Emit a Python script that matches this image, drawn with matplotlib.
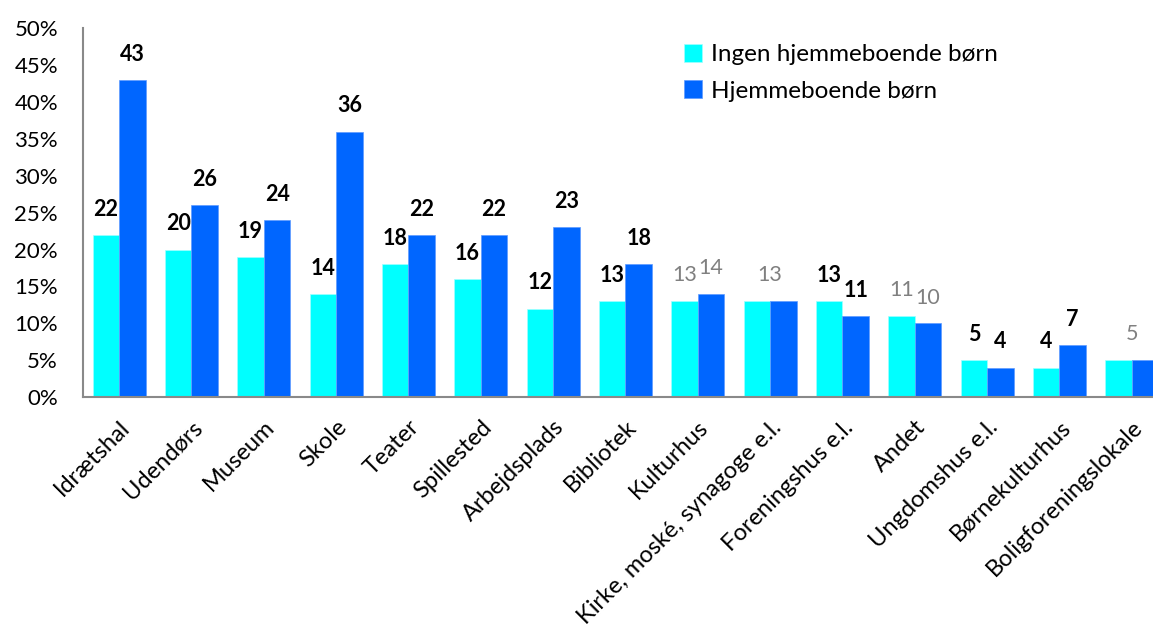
import matplotlib
matplotlib.use("Agg")
import matplotlib.pyplot as plt
import numpy as np

plt.rcParams['font.family'] = ['Lato', 'DejaVu Sans']

categories = ["Idrætshal", "Udendørs", "Museum", "Skole", "Teater", "Spillested",
              "Arbejdsplads", "Bibliotek", "Kulturhus", "Kirke, moské, synagoge e.l.",
              "Foreningshus e.l.", "Andet", "Ungdomshus e.l.", "Børnekulturhus",
              "Boligforeningslokale"]
ingen = [22, 20, 19, 14, 18, 16, 12, 13, 13, 13, 13, 11, 5, 4, 5]
hjemme = [43, 26, 24, 36, 22, 22, 23, 18, 14, 13, 11, 10, 4, 7, 5]
# label style per category: 'bold' = two bold labels, 'gray' = two gray labels,
# 'single' = one gray label centred on the group
label_style = ["bold"] * 8 + ["gray", "single", "bold", "gray", "bold", "bold", "single"]
yticks = [0, 5, 10, 15, 20, 25, 30, 35, 40, 45, 50]
series_names = ["Ingen hjemmeboende børn", "Hjemmeboende børn"]

c_cyan = "#00FFFF"
c_blue = "#0066FF"

fig = plt.figure(figsize=(11.53, 6.39), dpi=100)
W, H = 1153, 639
left_px, right_px, top_px, bot_px = 83, 1168, 28.4, 397
ax = fig.add_axes([left_px / W, 1 - bot_px / H, (right_px - left_px) / W, (bot_px - top_px) / H])

x = np.arange(len(categories))
bw = 0.366
b1 = ax.bar(x - bw / 2, ingen, bw, color=c_cyan, label=series_names[0], edgecolor="#9FFFFF", linewidth=0.5)
b2 = ax.bar(x + bw / 2, hjemme, bw, color=c_blue, label=series_names[1], edgecolor="#5E9BFF", linewidth=0.5)

ax.set_xlim(-0.5, len(categories) - 0.5)
ax.set_ylim(0, 50)
ax.set_yticks(yticks)
ax.set_yticklabels([f"{t}%" for t in yticks], fontsize=16)
ax.tick_params(axis='y', length=0, pad=18)
ax.set_xticks(x)
ax.set_xticklabels(categories, rotation=45, ha='right', rotation_mode='anchor', fontsize=17)
ax.tick_params(axis='x', length=0, pad=14)

for s in ['top', 'right']:
    ax.spines[s].set_visible(False)
for s in ['left', 'bottom']:
    ax.spines[s].set_color('#898989')
    ax.spines[s].set_linewidth(1.5)

off = 18.5
for i in range(len(categories)):
    st = label_style[i]
    if st == "bold":
        for xv, v in ((x[i] - bw / 2, ingen[i]), (x[i] + bw / 2, hjemme[i])):
            ax.annotate(f"{v}", (xv, v), xytext=(0, off), textcoords='offset points',
                        ha='center', va='center', fontsize=15.5, fontweight='bold', color='black')
    elif st == "gray":
        for xv, v in ((x[i] - bw / 2, ingen[i]), (x[i] + bw / 2, hjemme[i])):
            ax.annotate(f"{v}", (xv, v), xytext=(0, off), textcoords='offset points',
                        ha='center', va='center', fontsize=15.5, color='#808080')
    else:
        v = max(ingen[i], hjemme[i])
        ax.annotate(f"{v}", (x[i], v), xytext=(0, off), textcoords='offset points',
                    ha='center', va='center', fontsize=15.5, color='#808080')

leg = fig.legend(handles=[b1, b2], labels=series_names, loc='upper left',
                 bbox_to_anchor=(662 / W, 1 - 22 / H), frameon=False, fontsize=17.5,
                 handlelength=0.75, handleheight=0.75, handletextpad=0.35, labelspacing=0.62)

fig.savefig("out.png", dpi=100)
